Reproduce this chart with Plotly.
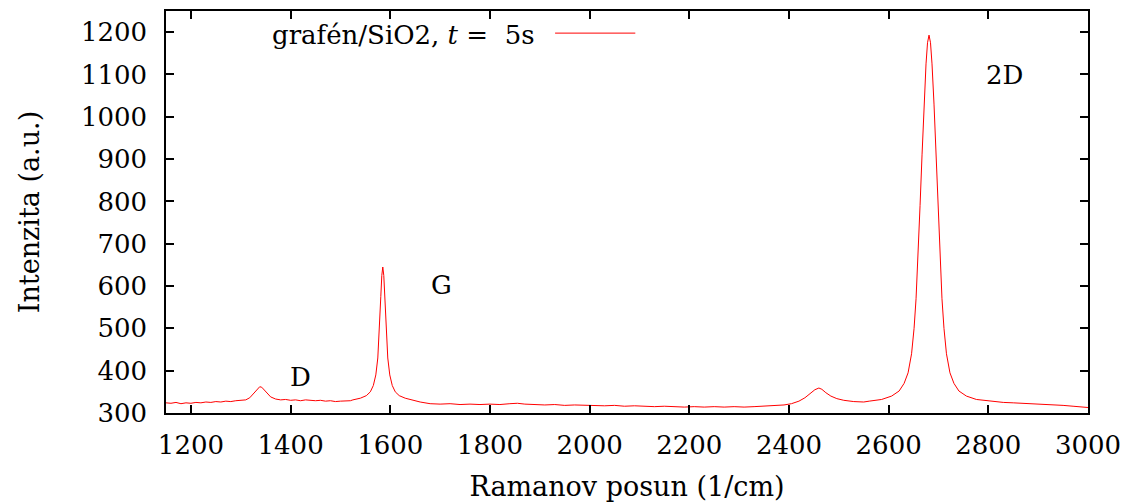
import plotly.graph_objects as go

# Raman shift (1/cm) and intensity (a.u.)
shift = [
    1150, 1160, 1170, 1180, 1190, 1200, 1210, 1220, 1230, 1240, 1250, 1260, 1270, 1280, 1290, 1300, 1310,
    1318, 1325, 1332, 1338, 1342, 1347, 1353, 1360, 1370, 1380,
    1390, 1400, 1410, 1420, 1430, 1440, 1450, 1460, 1470, 1480, 1490, 1500, 1510, 1520,
    1525, 1540, 1552, 1560, 1566, 1571, 1575, 1578, 1581, 1583, 1585, 1587, 1589, 1592, 1595, 1599,
    1604, 1610, 1618, 1630, 1645, 1660,
    1680, 1700, 1720, 1740, 1760, 1780, 1800, 1820, 1840, 1855, 1870, 1890, 1910, 1930, 1950, 1970, 1990,
    2010, 2030, 2050, 2070, 2090, 2110, 2130, 2150, 2170, 2190, 2210, 2230, 2250, 2270, 2290, 2310, 2330,
    2350, 2370, 2390, 2405, 2420, 2432, 2442, 2452, 2460, 2466, 2474, 2484, 2496, 2510, 2530, 2550,
    2561, 2586, 2606, 2621, 2631, 2639, 2646, 2651, 2655, 2659, 2663, 2667, 2671, 2675, 2678, 2681,
    2684, 2687, 2691, 2695, 2699, 2703, 2707, 2711, 2716, 2723, 2731, 2741, 2756, 2776, 2801, 2830,
    2850, 2870, 2890, 2910, 2930, 2950, 2970, 2985, 3000,
]
intensity = [
    324, 323, 325, 322, 324, 323, 325, 324, 326, 325, 327, 326, 328, 327, 329, 330, 331,
    336, 345, 356, 362, 361, 355, 346, 338, 333, 331,
    332, 330, 331, 329, 331, 330, 329, 330, 328, 329, 327, 328, 328, 329,
    331, 335, 341, 350, 365, 390, 430, 490, 575, 625, 645, 625, 575, 490, 430, 390,
    365, 350, 341, 335, 330, 326,
    322, 321, 322, 320, 321, 320, 321, 320, 322, 323, 321, 320, 319, 320, 318, 319, 318,
    318, 317, 318, 316, 317, 316, 315, 316, 315, 314, 315, 314, 315, 314, 315, 314, 315,
    316, 317, 319, 322, 328, 336, 346, 355, 359, 356, 348, 340, 334, 330, 327, 326,
    328, 332, 340, 352, 370, 395, 440, 500, 570, 670, 790, 910, 1030, 1125, 1175, 1193,
    1175, 1125, 1030, 910, 790, 670, 570, 500, 440, 395, 370, 352, 340, 332, 328, 325,
    324, 323, 322, 321, 320, 318, 316, 315, 313,
]

x_ticks = [1200, 1400, 1600, 1800, 2000, 2200, 2400, 2600, 2800, 3000]
y_ticks = [300, 400, 500, 600, 700, 800, 900, 1000, 1100, 1200]

peak_labels = ["D", "G", "2D"]
peak_label_x = [1420, 1702, 2832]
peak_label_y = [385, 603, 1099]

FONT = "DejaVu Serif"

fig = go.Figure()
fig.add_trace(go.Scatter(
    x=shift, y=intensity, mode="lines",
    line=dict(color="#ff0000", width=1),
    showlegend=False,
))

for t, px, py in zip(peak_labels, peak_label_x, peak_label_y):
    fig.add_annotation(x=px, y=py, text=t, showarrow=False,
                       font=dict(family=FONT, size=26, color="black"))

# legend (gnuplot style: text then sample line)
fig.add_annotation(xref="paper", yref="paper", x=0.4026, y=0.94,
                   xanchor="right", yanchor="middle", showarrow=False,
                   text="grafén/SiO2, <i>t</i> =  5s",
                   font=dict(family=FONT, size=26, color="black"))
fig.add_shape(type="line", xref="paper", yref="paper",
              x0=0.422, x1=0.509, y0=0.945, y1=0.945,
              line=dict(color="#ff0000", width=1))

axis_common = dict(
    showline=True, linecolor="black", linewidth=1.5, mirror="ticks",
    ticks="inside", ticklen=8, tickwidth=1.5, tickcolor="black",
    showgrid=False, zeroline=False, automargin=False,
    tickfont=dict(family=FONT, size=26, color="black"),
)

fig.update_xaxes(range=[1150, 3000], tickvals=x_ticks,
                 title=dict(text="Ramanov posun (1/cm)", standoff=18,
                            font=dict(family=FONT, size=27, color="black")),
                 ticklabelstandoff=8, **axis_common)
fig.update_yaxes(range=[300, 1250], tickvals=y_ticks,
                 title=dict(text="Intenzita (a.u.)", standoff=33,
                            font=dict(family=FONT, size=27, color="black")),
                 ticklabelstandoff=12, **axis_common)

fig.update_layout(
    width=1126, height=503,
    margin=dict(l=166, r=38, t=11, b=90),
    plot_bgcolor="white", paper_bgcolor="white",
    font=dict(family=FONT),
)

fig.write_html("out.html")
